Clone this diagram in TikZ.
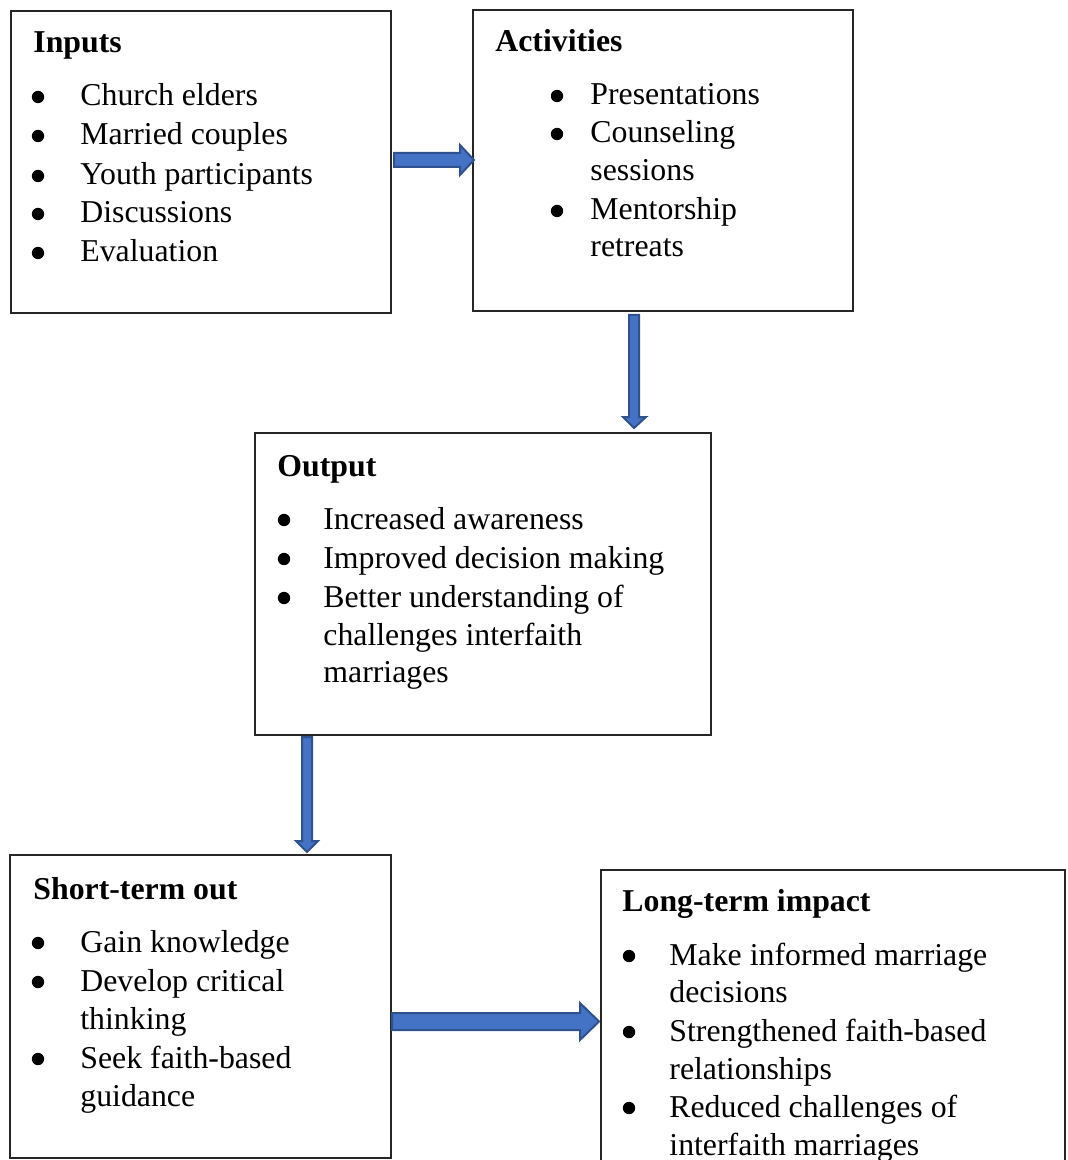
\documentclass[tikz,border=0pt]{standalone}
\usepackage{fontspec}
\setmainfont{Liberation Serif}
\definecolor{arrfill}{RGB}{68,114,196}
\definecolor{arrline}{RGB}{47,82,143}
\begin{document}
\begin{tikzpicture}[x=0.5pt,y=-0.5pt,
  box/.style={draw=black!85,line width=0.75pt},
  txt/.style={anchor=base west,inner sep=0pt,font=\fontsize{15.9}{19}\selectfont},
  ttl/.style={anchor=base west,inner sep=0pt,font=\fontsize{15.9}{19}\selectfont\bfseries},
  dot/.style={circle,fill=black,inner sep=0pt,minimum size=6.2pt},
  blockarrow/.style={fill=arrfill,draw=arrline,line width=1pt,line join=miter}]
\useasboundingbox (0,0) rectangle (1067,1160);
\clip (0,0) rectangle (1067,1160);
% boxes
\draw[box] (11,11) rectangle (391,313) coordinate (inputsbox);
\draw[box] (473,10) rectangle (853,311) coordinate (actbox);
\draw[box] (255,433) rectangle (711,735) coordinate (outbox);
\draw[box] (10,855) rectangle (391,1158) coordinate (shortbox);
\draw[box] (601,870) rectangle (1065,1200) coordinate (longbox);
% Inputs
\node[ttl] (t1) at (33,53) {Inputs};
\foreach \y/\t [count=\i] in {106/Church elders,145/Married couples,185/Youth participants,223/Discussions,262/Evaluation}{
  \node[dot] (ib\i) at (38,\y-9) {};
  \node[txt] (il\i) at (80,\y) {\t};
}
% Activities
\node[ttl] (t2) at (495,52) {Activities};
\foreach \y/\t [count=\i] in {105/Presentations,143/Counseling,181/sessions,220/Mentorship,257/retreats}{
  \node[txt] (al\i) at (590,\y) {\t};
}
\foreach \y [count=\i] in {105,143,220}{\node[dot] (ab\i) at (557,\y-9) {};}
% Output
\node[ttl] (t3) at (277,476) {Output};
\foreach \y/\t [count=\i] in {529/Increased awareness,568/Improved decision making,607/Better understanding of,645/challenges interfaith,682/marriages}{
  \node[txt] (ol\i) at (323,\y) {\t};
}
\foreach \y [count=\i] in {529,568,607}{\node[dot] (ob\i) at (284,\y-9) {};}
% Short-term
\node[ttl] (t4) at (33,899) {Short-term out};
\foreach \y/\t [count=\i] in {952/Gain knowledge,991/Develop critical,1029/thinking,1068/Seek faith-based,1106/guidance}{
  \node[txt] (sl\i) at (80,\y) {\t};
}
\foreach \y [count=\i] in {952,991,1068}{\node[dot] (sb\i) at (38,\y-9) {};}
% Long-term
\node[ttl] (t5) at (622,911) {Long-term impact};
\foreach \y/\t [count=\i] in {965/Make informed marriage,1002/decisions,1041/Strengthened faith-based,1079/relationships,1117/Reduced challenges of,1155/interfaith marriages}{
  \node[txt] (ll\i) at (669,\y) {\t};
}
\foreach \y [count=\i] in {965,1041,1117}{\node[dot] (lb\i) at (629,\y-9) {};}
% block arrows
\draw[blockarrow] (394,153) -- (460,153) -- (460,145) -- (474,160) -- (460,175) -- (460,167) -- (394,167) -- cycle;
\draw[blockarrow] (629,315) -- (639,315) -- (639,417) -- (646,417) -- (634,428) -- (623,417) -- (629,417) -- cycle;
\draw[blockarrow] (302,737) -- (312,737) -- (312,841) -- (318,841) -- (307,852) -- (296,841) -- (302,841) -- cycle;
\draw[blockarrow] (392,1013) -- (580,1013) -- (580,1003) -- (599,1021.5) -- (580,1040) -- (580,1030) -- (392,1030) -- cycle;
\end{tikzpicture}
\end{document}
